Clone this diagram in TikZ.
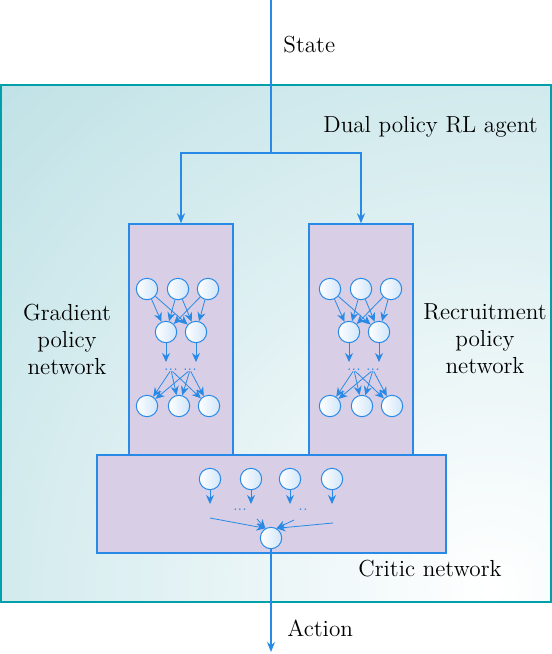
\documentclass[tikz,border=0pt]{standalone}
\usepackage{amssymb,amsmath}
\usetikzlibrary{arrows.meta}
\definecolor{netblue}{RGB}{40,138,230}
\definecolor{agentteal}{RGB}{0,160,170}
\definecolor{agentfill}{RGB}{192,226,230}
\definecolor{lavender}{RGB}{216,206,229}
\begin{document}
\begin{tikzpicture}[x=0.5pt,y=-0.5pt,
  lbl/.style={font=\fontsize{11.6}{13.5}\selectfont,align=center,inner sep=0pt},
  netbox/.style={draw=netblue,line width=0.7pt,fill=lavender,inner sep=0pt},
  neuron/.style={circle,draw=netblue,line width=0.5pt,left color=white,right color=netblue!22,minimum size=10.7pt,inner sep=0pt},
  flow/.style={draw=netblue,line width=1pt},
  syn/.style={draw=netblue,line width=0.4pt,-{Stealth[length=4.5pt,width=4pt]}},
  gap/.style={font=\scriptsize,text=netblue,inner sep=0pt}]
\useasboundingbox (0,0) rectangle (552,654);
\node[draw=agentteal,line width=0.6pt,fill=agentfill,minimum width=275pt,minimum height=258.5pt,inner sep=0pt,
  path picture={\shade[inner color=white,outer color=agentfill] ([shift={(-60,-15)}]path picture bounding box.south east) circle (700);}] (agent) at (276,343.5) {};
\node[lbl,anchor=west] (state) at (283,45) {State};
\node[lbl,anchor=west] (agentlbl) at (323,127) {Dual policy RL agent};
\node[lbl] (glbl) at (67,339) {Gradient\\policy\\network};
\node[lbl] (rlbl) at (485,339) {Recruitment\\policy\\network};
\node[lbl,anchor=west] (criticlbl) at (358,569) {Critic network};
\node[lbl,anchor=west] (action) at (287,628) {Action};
\node[netbox,minimum width=52pt,minimum height=118pt] (gbox) at (181,342) {};
\node[netbox,minimum width=52pt,minimum height=118pt] (rbox) at (361,342) {};
\node[netbox,minimum width=174.5pt,minimum height=49pt] (critic) at (271.5,504) {};
\coordinate (in) at (271,0);
\coordinate (split) at (271,153);
\draw[flow] (in) -- (split);
\draw[flow,-{Stealth[length=5pt,width=4pt]}] (split) -| (gbox.north);
\draw[flow,-{Stealth[length=5pt,width=4pt]}] (split) -| (rbox.north);
\foreach \n/\dx in {g/0,r/183}{
  \foreach \i/\x in {1/147,2/178,3/208}
    \node[neuron] (\n-a\i) at (\dx+\x,289) {};
  \foreach \i/\x/\y in {1/166/171,2/196/190}{
    \node[neuron] (\n-b\i) at (\dx+\x,332) {};
    \coordinate (\n-d\i) at (\dx+\x,362);
    \node[gap] (\n-g\i) at (\dx+\y,370) {...};
  }
  \foreach \i/\x in {1/147,2/179,3/209}
    \node[neuron] (\n-c\i) at (\dx+\x,406) {};
  \foreach \i in {1,2,3}
    \foreach \j in {1,2}{
      \draw[syn] (\n-a\i) -- (\n-b\j);
      \draw[syn] (\n-g\j) -- (\n-c\i);
    }
  \foreach \j in {1,2}
    \draw[syn] (\n-b\j) -- (\n-d\j);
}
\foreach \i/\x in {1/210,2/251,3/290,4/332}{
  \node[neuron] (k\i) at (\x,479) {};
  \coordinate (kd\i) at (\x,504);
  \draw[syn] (k\i) -- (kd\i);
}
\node[gap] (kg1) at (240,510) {...};
\node[gap] (kg2) at (303,510) {..};
\node[neuron] (k0) at (271,538) {};
\coordinate (kl1) at (210,518);
\coordinate (kl2) at (257,519);
\coordinate (kr1) at (333,523);
\coordinate (kr2) at (294,520);
\draw[syn] (kl1) -- (k0.120);
\draw[syn] (kl2) -- (k0.120);
\draw[syn] (kr1) -- (k0.60);
\draw[syn] (kr2) -- (k0.60);
\coordinate (out) at (271,652);
\draw[flow,-{Stealth[length=5pt,width=4pt]}] (k0) -- (out);
\end{tikzpicture}
\end{document}
